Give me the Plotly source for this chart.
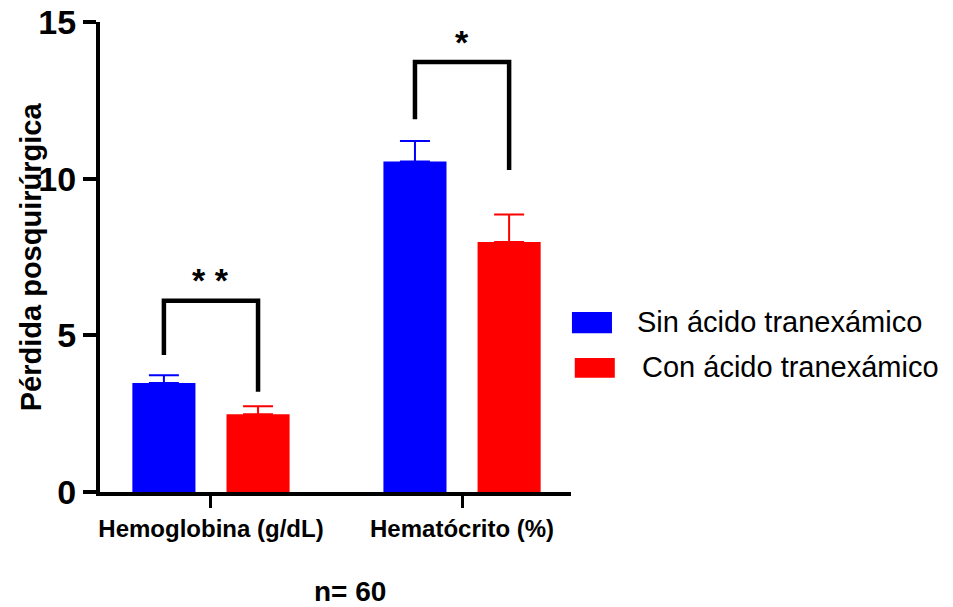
import plotly.graph_objects as go

# ---- data ----
categories = ["Hemoglobina (g/dL)", "Hematócrito (%)"]
series_names = ["Sin ácido tranexámico", "Con ácido tranexámico"]
sin_values = [3.48, 10.55]
sin_errors = [0.25, 0.65]
con_values = [2.48, 7.98]
con_errors = [0.26, 0.88]
y_ticks = [0, 5, 10, 15]

# significance brackets (y in data units)
sig_labels = ["* *", "*"]
bracket_top = [6.1, 13.72]
bracket_left_bottom = [4.37, 11.9]
bracket_right_bottom = [3.2, 10.28]
sig_label_y = [6.1, 13.7]

colors = ["#0000FF", "#FF0000"]
FONT = "Liberation Sans, Arial, sans-serif"

bargap = 0.25
bargroupgap = 0.33
offset = (1 - bargap) / 4  # centre offset of each bar in a 2-bar group

fig = go.Figure()
fig.add_trace(go.Bar(
    x=categories, y=sin_values, name=series_names[0],
    marker=dict(color=colors[0], line=dict(width=0)),
    error_y=dict(type="data", array=sin_errors, symmetric=False, arrayminus=[0, 0],
                 color=colors[0], thickness=2, width=15),
    showlegend=False,
))
fig.add_trace(go.Bar(
    x=categories, y=con_values, name=series_names[1],
    marker=dict(color=colors[1], line=dict(width=0)),
    error_y=dict(type="data", array=con_errors, symmetric=False, arrayminus=[0, 0],
                 color=colors[1], thickness=2, width=15),
    showlegend=False,
))

shapes = []
annotations = []
for i in range(len(categories)):
    xl = i - offset
    xr = i + offset
    path = (f"M {xl},{bracket_left_bottom[i]} L {xl},{bracket_top[i]} "
            f"L {xr},{bracket_top[i]} L {xr},{bracket_right_bottom[i]}")
    shapes.append(dict(type="path", path=path, xref="x", yref="y",
                       line=dict(color="black", width=4.5)))
    annotations.append(dict(x=i, y=sig_label_y[i], xref="x", yref="y", text=sig_labels[i],
                            showarrow=False, yanchor="bottom",
                            font=dict(family=FONT, size=34, color="black", weight="bold")))

# manual legend (large swatches)
legend_boxes = [(1.002, 1.087, 0.338, 0.383), (1.008, 1.093, 0.243, 0.285)]
legend_text_pos = [(1.136, 0.362), (1.146, 0.266)]
for k in range(2):
    x0, x1, y0, y1 = legend_boxes[k]
    shapes.append(dict(type="rect", xref="paper", yref="paper", x0=x0, x1=x1, y0=y0, y1=y1,
                       fillcolor=colors[k], line=dict(width=0)))
    tx, ty = legend_text_pos[k]
    annotations.append(dict(x=tx, y=ty, xref="paper", yref="paper", text=series_names[k],
                            showarrow=False, xanchor="left", yanchor="middle",
                            font=dict(family=FONT, size=29, color="black")))

# axis titles as annotations
annotations.append(dict(x=0.53, y=-0.212, xref="paper", yref="paper", text="n= 60",
                        showarrow=False, xanchor="center", yanchor="middle",
                        font=dict(family=FONT, size=28, color="black", weight="bold")))
annotations.append(dict(x=-0.146, y=0.5, xref="paper", yref="paper", text="Pérdida posquirúrgica",
                        showarrow=False, xanchor="center", yanchor="middle", textangle=-90,
                        font=dict(family=FONT, size=29, color="black", weight="bold")))

fig.update_layout(
    width=953, height=607,
    margin=dict(l=100, r=382, t=22, b=115),
    plot_bgcolor="white", paper_bgcolor="white",
    barmode="group", bargap=bargap, bargroupgap=bargroupgap,
    shapes=shapes, annotations=annotations,
    showlegend=False,
    font=dict(family=FONT, color="black"),
)
fig.update_xaxes(
    range=[-0.442, 1.434], automargin=False,
    showline=True, linecolor="black", linewidth=4,
    ticks="outside", ticklen=12, tickwidth=3, tickcolor="black",
    tickfont=dict(family=FONT, size=24, color="black", weight="bold"),
    showgrid=False, zeroline=False,
)
fig.update_yaxes(
    range=[0, 15], tickvals=y_ticks, automargin=False,
    showline=True, linecolor="black", linewidth=4,
    ticks="outside", ticklen=13, tickwidth=4, tickcolor="black",
    tickfont=dict(family=FONT, size=34, color="black", weight="bold"),
    showgrid=False, zeroline=False,
)

fig.write_html("out.html", config={"displayModeBar": False},
               post_script="document.body.style.margin='0';document.body.style.padding='0';")
